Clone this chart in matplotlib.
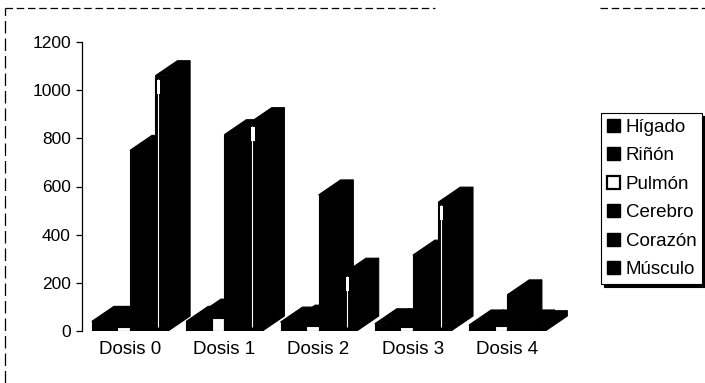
import matplotlib
matplotlib.use("Agg")
import matplotlib.pyplot as plt
from matplotlib.patches import Polygon, Patch, Rectangle
from matplotlib.lines import Line2D

plt.rcParams['font.family'] = ['Liberation Sans', 'DejaVu Sans']

# ---- data -------------------------------------------------------------
dosis = ["Dosis 0", "Dosis 1", "Dosis 2", "Dosis 3", "Dosis 4"]
organos = ["Hígado", "Riñón", "Pulmón", "Cerebro", "Corazón", "Músculo"]

higado = [40, 40, 37, 30, 25]
rinon = [40, 70, 45, 30, 25]
pulmon = [15, 55, 20, 15, 20]
cerebro = [750, 815, 565, 315, 150]
corazon = [35, 60, 40, 30, 25]
musculo = [1060, 865, 240, 535, 22]

series = [higado, rinon, pulmon, cerebro, corazon, musculo]

# ---- figure geometry ---------------------------------------------------
W, H = 705, 383
fig = plt.figure(figsize=(W / 100, H / 100), dpi=100)

px_per_cat = 94.3          # horizontal pixels per category
cat0_px = 130              # pixel x of the first category centre
ax_left_px, ax_right_px = 82, 590
y0_px, y1200_px = 331, 42  # pixel rows (from top) of 0 and 1200

ax = fig.add_axes([ax_left_px / W, (H - y0_px) / H,
                   (ax_right_px - ax_left_px) / W, (y0_px - y1200_px) / H])
ax.set_xlim((ax_left_px - cat0_px) / px_per_cat, (ax_right_px - cat0_px) / px_per_cat)
ax.set_ylim(0, 1200)
px_per_val = (y0_px - y1200_px) / 1200.0

# bar shape: six columns side by side, each with an oblique depth
bar_w = 12.7 / px_per_cat
depth_x = 22 / px_per_cat
depth_y = 15 / px_per_val
group_w = bar_w * len(series)

for i in range(len(dosis)):
    gx = i - group_w / 2
    for j, vals in enumerate(series):
        v = vals[i]
        x0 = gx + j * bar_w
        x1 = x0 + bar_w
        front_fc = "white" if organos[j] == "Pulmón" else "black"
        side = Polygon([(x1, 0), (x1 + depth_x, depth_y), (x1 + depth_x, v + depth_y), (x1, v)],
                       closed=True, facecolor="black", edgecolor="black", lw=0.8)
        top = Polygon([(x0, v), (x1, v), (x1 + depth_x, v + depth_y), (x0 + depth_x, v + depth_y)],
                      closed=True, facecolor="black", edgecolor="black", lw=0.8)
        front = Rectangle((x0, 0), bar_w, v, facecolor=front_fc, edgecolor="black", lw=0.8)
        for p in (side, top, front):
            ax.add_patch(p)
        if organos[j] == "Músculo" and v > 100:
            # light streak along the left edge of the muscle column
            ex = x0 + 2.5 / px_per_cat
            ax.plot([ex, ex], [4 / px_per_val, v - 3 / px_per_val], color="white", lw=0.8,
                    solid_capstyle="butt")
            ax.add_patch(Rectangle((x0 + 1.5 / px_per_cat, v - 18 / px_per_val),
                                   3.5 / px_per_cat, 14 / px_per_val,
                                   facecolor="white", edgecolor="none"))

# ---- axes styling -----------------------------------------------------
for s in ("top", "right", "bottom"):
    ax.spines[s].set_visible(False)
ax.spines["left"].set_linewidth(0.9)
ax.set_yticks(range(0, 1201, 200))
ax.tick_params(axis="y", length=4, width=0.9, pad=4, labelsize=12.5, direction="out")
ax.set_xticks(range(len(dosis)))
ax.set_xticklabels(dosis)
ax.tick_params(axis="x", length=0, pad=7, labelsize=13.5)
ax.patch.set_visible(False)

# ---- legend -------------------------------------------------------------
handles = []
for name in organos:
    if name == "Pulmón":
        h = Patch(facecolor="white", edgecolor="black", lw=1.6)
    else:
        h = Patch(facecolor="black", edgecolor="black")
    handles.append(h)
leg = fig.legend(handles, organos, loc="upper left",
                 bbox_to_anchor=(601 / W, 1 - 113 / H), borderaxespad=0,
                 fontsize=13.5, handlelength=0.72, handleheight=0.72,
                 handletextpad=0.3, labelspacing=0.6, borderpad=0.3,
                 frameon=True, fancybox=False,
                 shadow={"color": "black", "alpha": 1.0})
leg.get_frame().set_edgecolor("black")
leg.get_frame().set_linewidth(0.8)

# ---- chart-area border ---------------------------------------------------
fig.add_artist(Line2D([5 / W, 435 / W], [1 - 8 / H, 1 - 8 / H], transform=fig.transFigure,
                      color="black", lw=0.9, linestyle=(0, (6, 3))))
fig.add_artist(Line2D([600 / W, 1.0], [1 - 8 / H, 1 - 8 / H], transform=fig.transFigure,
                      color="black", lw=0.9, linestyle=(0, (6, 3))))
fig.add_artist(Line2D([5 / W, 5 / W], [0, 1 - 8 / H], transform=fig.transFigure,
                      color="black", lw=0.9, linestyle=(0, (10, 4))))

fig.savefig("out.png", dpi=100, facecolor="white")
